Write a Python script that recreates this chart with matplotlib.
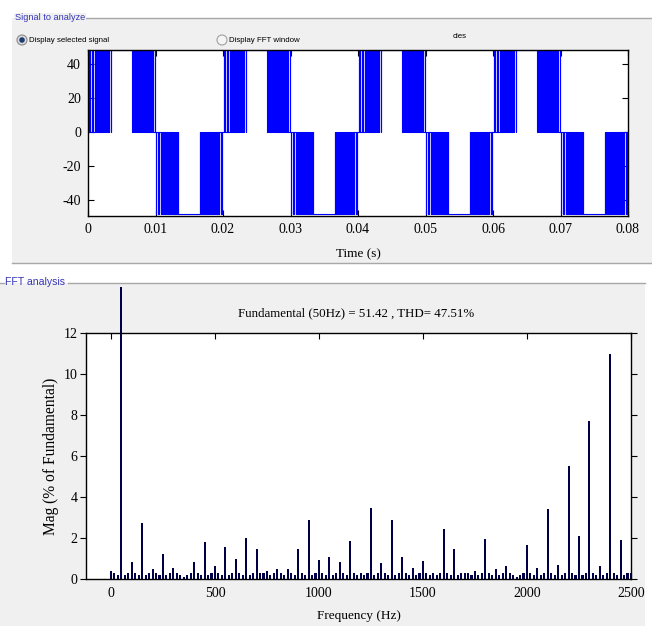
import matplotlib
matplotlib.use('Agg')
import matplotlib.pyplot as plt
import numpy as np
from matplotlib.patches import Rectangle, Circle
from matplotlib.transforms import Bbox, TransformedBbox

plt.rcParams['axes.unicode_minus'] = False

# ---------------- data ----------------
# Top plot: PWM pulses of one positive half cycle (ms), reused for every half cycle
pulse_on_ms = [(0.10, 0.12), (0.32, 0.35), (0.54, 0.58), (0.76, 0.81),
               (0.98, 1.04), (1.20, 1.27), (1.42, 1.50), (1.64, 1.73),
               (1.86, 1.96), (2.08, 2.19), (2.30, 2.42), (2.52, 2.65),
               (2.74, 2.88), (2.96, 3.11), (3.18, 3.34),
               (3.40, 6.52),
               (6.60, 6.78), (6.84, 7.00), (7.08, 7.23), (7.32, 7.46),
               (7.55, 7.68), (7.78, 7.90), (8.02, 8.13), (8.25, 8.35),
               (8.48, 8.57), (8.71, 8.79), (8.94, 9.01), (9.17, 9.23),
               (9.40, 9.45), (9.63, 9.67), (9.86, 9.89)]
half_cycle_ms = 10.0
n_half_cycles = 8
dc_level = 48.0
time_ticks = [0, 0.01, 0.02, 0.03, 0.04, 0.05, 0.06, 0.07, 0.08]
time_labels = ['0', '0.01', '0.02', '0.03', '0.04', '0.05', '0.06', '0.07', '0.08']
sig_ticks = [-40, -20, 0, 20, 40]

# Bottom plot: FFT magnitude (% of fundamental), bins of 50/3 Hz from 0 to 2500 Hz
bin_hz = 50.0 / 3.0
fft_mag = [
    0.4, 0.3, 0.2, 100.0, 0.2, 0.3, 0.85, 0.3, 0.2, 2.75,      # 0 .. 150
    0.2, 0.3, 0.5, 0.3, 0.2, 1.2, 0.2, 0.3, 0.55, 0.3,          # .. 316
    0.2, 0.1, 0.2, 0.3, 0.85, 0.3, 0.2, 1.8, 0.2, 0.3,          # .. 483
    0.65, 0.3, 0.2, 1.55, 0.2, 0.3, 1.0, 0.3, 0.2, 2.0,         # .. 650
    0.2, 0.3, 1.45, 0.3, 0.3, 0.4, 0.2, 0.3, 0.5, 0.3,          # .. 816
    0.2, 0.5, 0.3, 0.2, 1.45, 0.3, 0.2, 2.9, 0.2, 0.3,          # .. 983
    0.95, 0.3, 0.2, 1.05, 0.2, 0.3, 0.85, 0.3, 0.2, 1.85,       # .. 1150
    0.3, 0.2, 0.3, 0.2, 0.3, 3.45, 0.2, 0.3, 0.8, 0.3,          # .. 1316
    0.2, 2.9, 0.2, 0.3, 1.05, 0.3, 0.2, 0.55, 0.2, 0.3,         # .. 1483
    0.9, 0.3, 0.2, 0.3, 0.2, 0.3, 2.45, 0.3, 0.2, 1.45,         # .. 1650
    0.2, 0.3, 0.3, 0.3, 0.2, 0.4, 0.2, 0.3, 1.95, 0.3,          # .. 1816
    0.2, 0.5, 0.2, 0.3, 0.65, 0.3, 0.2, 0.1, 0.2, 0.3,          # .. 1983
    1.65, 0.3, 0.2, 0.55, 0.2, 0.3, 3.4, 0.3, 0.2, 0.7,         # .. 2150
    0.2, 0.3, 5.5, 0.3, 0.2, 2.1, 0.2, 0.3, 7.7, 0.3,           # .. 2316
    0.2, 0.65, 0.2, 0.3, 11.0, 0.3, 0.2, 1.9, 0.2, 0.3,         # .. 2483
    0.3]                                                          # 2500
freq_ticks = [0, 500, 1000, 1500, 2000, 2500]
mag_ticks = [0, 2, 4, 6, 8, 10, 12]
title_text = 'Fundamental (50Hz) = 51.42 , THD= 47.51%'

# ---------------- figure ----------------
W, H = 652, 626
fig = plt.figure(figsize=(W / 100, H / 100), dpi=100)
fig.patch.set_facecolor('white')

serif = ['Liberation Serif', 'DejaVu Serif']
gui = ['Liberation Sans', 'DejaVu Sans']
panel_grey = '#f0f0f0'
label_blue = '#3535b8'

bg = fig.add_axes([0, 0, 1, 1])
bg.set_xlim(0, W)
bg.set_ylim(H, 0)
bg.axis('off')
bg.set_zorder(-10)

# panel 1
bg.add_patch(Rectangle((12, 18), 640, 245, fc=panel_grey, ec='none'))
bg.plot([86, 652], [18, 18], color='#a8a8a8', lw=1.0)
bg.plot([12, 652], [263, 263], color='#a8a8a8', lw=1.0)
bg.text(15, 18, 'Signal to analyze', color=label_blue, fontsize=6.6, family=gui,
        va='center', ha='left',
        bbox=dict(fc=panel_grey, ec='none', pad=0.5))
bg.add_patch(Circle((22, 40), 5, fc='#dcdcdc', ec='#8a8a8a', lw=0.8))
bg.add_patch(Circle((22, 40), 2.8, fc='#1f3d72', ec='none'))
bg.text(29, 40, 'Display selected signal', fontsize=5.7, family=gui, va='center')
bg.add_patch(Circle((222, 40), 5, fc='#f4f4f4', ec='#a0a0a0', lw=0.8))
bg.text(229, 40, 'Display FFT window', fontsize=5.7, family=gui, va='center')
bg.text(453, 36, 'cles', fontsize=5.7, family=gui, va='center')

# panel 2
bg.add_patch(Rectangle((0, 283), 645, 343, fc=panel_grey, ec='none'))
bg.plot([68, 645], [283, 283], color='#a8a8a8', lw=1.0)
bg.plot([0, 4], [283, 283], color='#a8a8a8', lw=1.0)
bg.text(5, 282, 'FFT analysis', color=label_blue, fontsize=7.6, family=gui,
        va='center', ha='left')
bg.text(356, 313, title_text, fontsize=9.3, family=serif, ha='center', va='center')

# ---------------- top plot ----------------
t_ms = [0.0]
v = [0.0]
for h in range(n_half_cycles):
    sgn = 1.0 if h % 2 == 0 else -1.0
    off = h * half_cycle_ms
    for s, e in pulse_on_ms:
        t_ms += [off + s, off + s, off + e, off + e]
        v += [0.0, sgn * dc_level, sgn * dc_level, 0.0]
t_ms.append(n_half_cycles * half_cycle_ms)
v.append(0.0)
t_s = np.array(t_ms) / 1000.0

ax1 = fig.add_axes([88 / W, 1 - 216 / H, 540 / W, 166 / H])
ax1.set_facecolor('white')
ax1.plot(t_s, v, color='#0000ff', lw=0.8)
ax1.set_xlim(0, 0.08)
ax1.set_ylim(-49.3, 48.2)
ax1.set_xticks(time_ticks)
ax1.set_xticklabels(time_labels)
ax1.set_yticks(sig_ticks)
ax1.tick_params(direction='in', top=True, right=True, length=4, width=0.8,
                labelsize=10, pad=5)
for lab in ax1.get_xticklabels() + ax1.get_yticklabels():
    lab.set_family(serif)
ax1.set_xlabel('Time (s)', fontsize=9.5, family=serif, labelpad=9)
for sp in ax1.spines.values():
    sp.set_linewidth(1.0)

# ---------------- bottom plot ----------------
freqs = np.arange(len(fft_mag)) * bin_hz
ax2 = fig.add_axes([86 / W, 1 - 579 / H, 545 / W, 246 / H])
ax2.set_facecolor('white')
bars = ax2.bar(freqs, fft_mag, width=10, color='#000048', edgecolor='none')
ax2.set_xlim(-120, 2500)
ax2.set_ylim(0, 12)
clip_box = TransformedBbox(Bbox([[86 / W, 1 - 579 / H], [631 / W, 1 - 287 / H]]),
                           fig.transFigure)
for b, m in zip(bars, fft_mag):
    if m > 12:
        b.set_clip_box(clip_box)
ax2.set_xticks(freq_ticks)
ax2.set_yticks(mag_ticks)
ax2.tick_params(axis='x', direction='in', top=True, length=4, width=0.8,
                labelsize=10, pad=6)
ax2.tick_params(axis='y', direction='out', right=True, length=4, width=0.8,
                labelsize=10, pad=2)
for lab in ax2.get_xticklabels() + ax2.get_yticklabels():
    lab.set_family(serif)
ax2.set_xlabel('Frequency (Hz)', fontsize=9.5, family=serif, labelpad=7)
ax2.set_ylabel('Mag (% of Fundamental)', fontsize=11.2, family=serif, labelpad=3)
for sp in ax2.spines.values():
    sp.set_linewidth(1.0)

fig.savefig('out.png', dpi=100)
